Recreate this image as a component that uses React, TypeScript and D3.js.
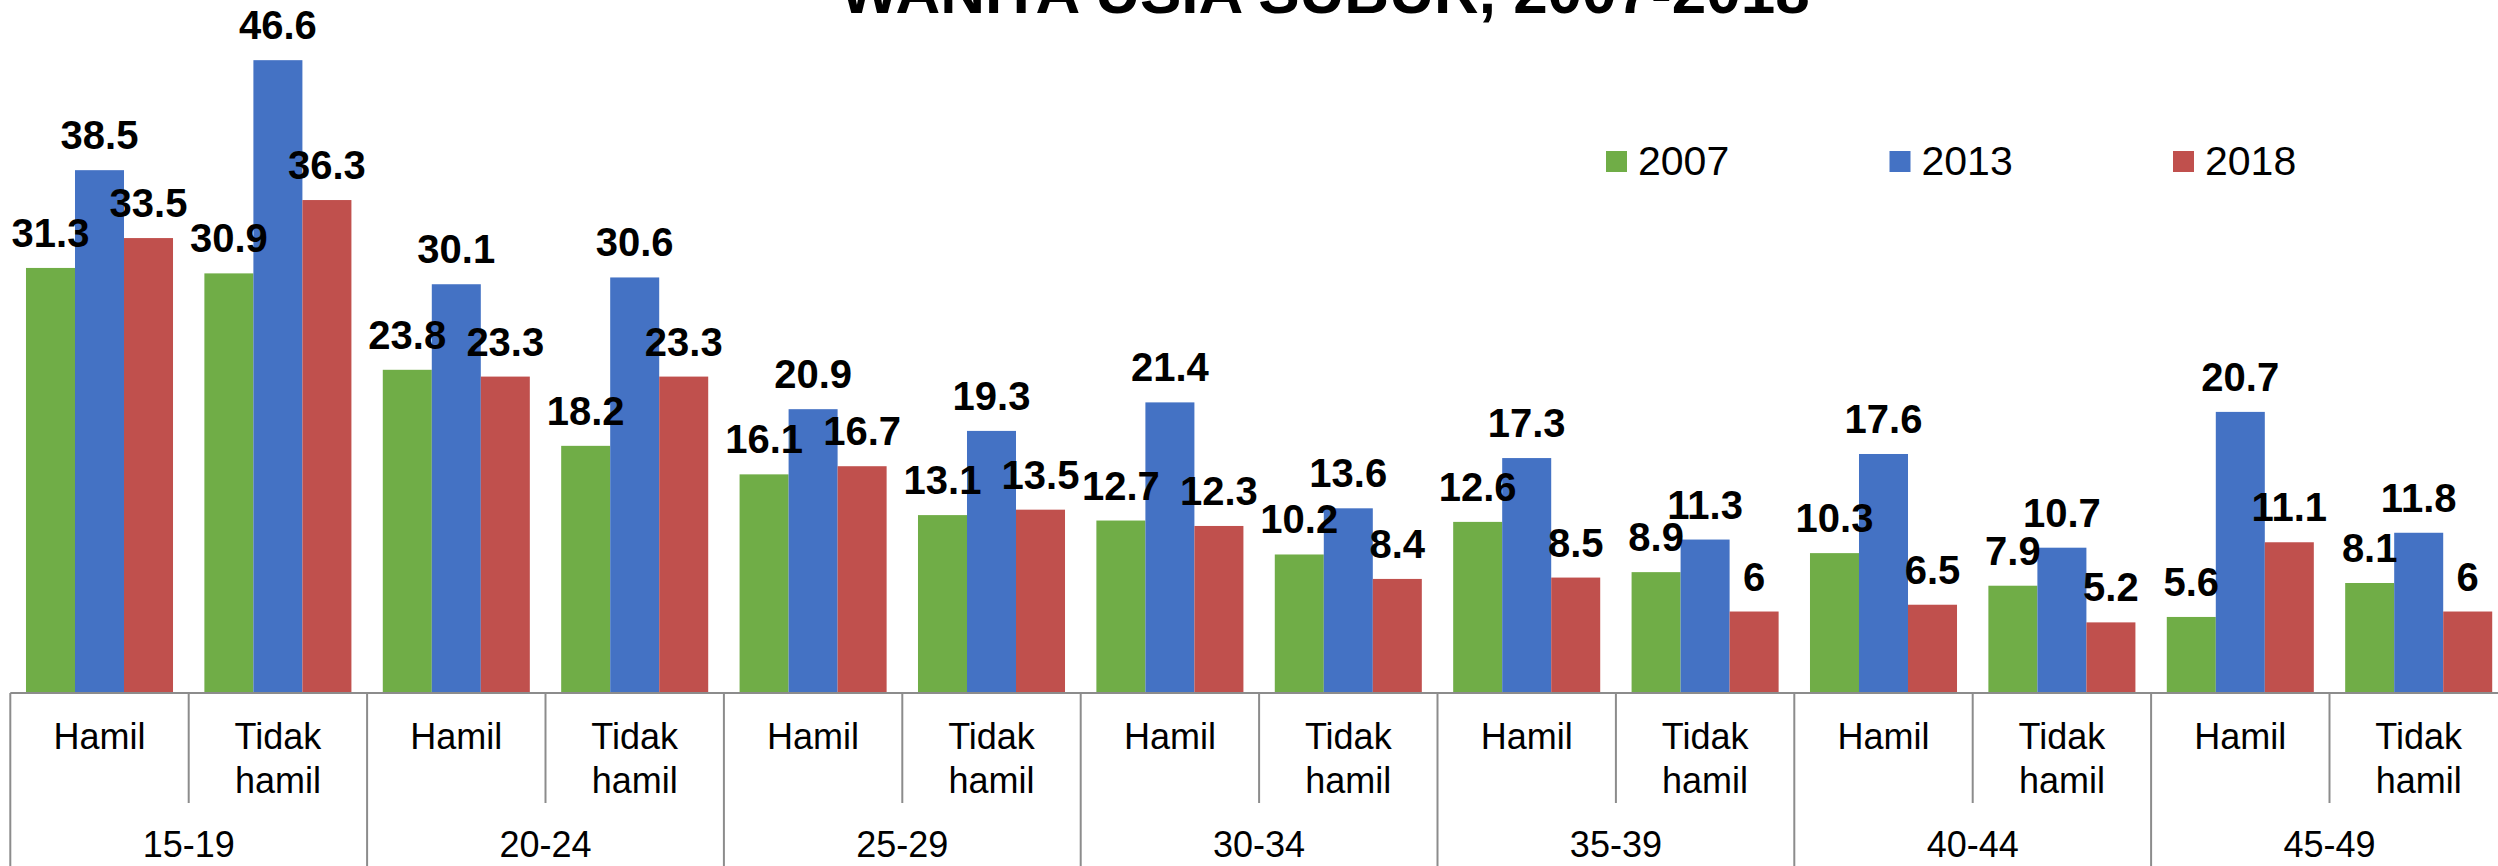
import React from "react";
import * as d3 from "d3";

// data
const groups = ["15-19", "20-24", "25-29", "30-34", "35-39", "40-44", "45-49"];
const status = ["Hamil", "Tidak hamil"];
const years = ["2007", "2013", "2018"];
const v2007 = [31.3, 30.9, 23.8, 18.2, 16.1, 13.1, 12.7, 10.2, 12.6, 8.9, 10.3, 7.9, 5.6, 8.1];
const v2013 = [38.5, 46.6, 30.1, 30.6, 20.9, 19.3, 21.4, 13.6, 17.3, 11.3, 17.6, 10.7, 20.7, 11.8];
const v2018 = [33.5, 36.3, 23.3, 23.3, 16.7, 13.5, 12.3, 8.4, 8.5, 6, 6.5, 5.2, 11.1, 6];
const titleText = "WANITA USIA SUBUR, 2007-2018";

const colors = ["#70AD47", "#4472C4", "#C0504D"];
const FONT = "'Liberation Sans', Arial, sans-serif";

export default function App() {
  const width = 2498;
  const height = 866;
  const axisY = 693;
  const left = 10.3;
  const cellW = 178.4;

  const cells = groups.flatMap((g) => status.map((s) => `${g}|${s}`));
  const series = [v2007, v2013, v2018];

  const xCell = d3
    .scaleBand()
    .domain(cells)
    .range([left, left + cellW * cells.length])
    .padding(0);

  const xSeries = d3
    .scaleBand()
    .domain(years)
    .range([0, xCell.bandwidth()])
    .paddingInner(0)
    .paddingOuter(0.32);

  const xGroup = d3
    .scaleBand()
    .domain(groups)
    .range([left, left + cellW * cells.length])
    .padding(0);

  const y = d3.scaleLinear().domain([0, 50]).range([axisY, axisY - 50 * 13.58]);

  const axisColor = "#8c8c8c";

  return (
    <svg
      width={width}
      height={height}
      style={{ position: "absolute", left: 0, top: 0, background: "#fff" }}
      fontFamily={FONT}
    >
      {/* title (cut off at top) */}
      <text x={1325} y={12.5} textAnchor="middle" fontSize={62} fontWeight="bold" fill="#000">
        {titleText}
      </text>

      {/* bars */}
      {series.map((vals, si) =>
        vals.map((v, i) => (
          <rect
            key={`b${si}-${i}`}
            x={xCell(cells[i])! + xSeries(years[si])!}
            y={y(v)}
            width={xSeries.bandwidth()}
            height={axisY - y(v)}
            fill={colors[si]}
          />
        ))
      )}

      {/* value labels */}
      {series.map((vals, si) =>
        vals.map((v, i) => (
          <text
            key={`l${si}-${i}`}
            x={xCell(cells[i])! + xSeries(years[si])! + xSeries.bandwidth() / 2}
            y={y(v) - 21}
            textAnchor="middle"
            fontSize={40}
            fontWeight="bold"
            fill="#000"
          >
            {String(v)}
          </text>
        ))
      )}

      {/* category axis */}
      <line x1={left} x2={width} y1={axisY} y2={axisY} stroke={axisColor} strokeWidth={2} />
      {cells.map((c, i) =>
        i % 2 === 1 ? (
          <line
            key={`sd${i}`}
            x1={xCell(c)!}
            x2={xCell(c)!}
            y1={axisY}
            y2={803}
            stroke={axisColor}
            strokeWidth={2}
          />
        ) : null
      )}
      {groups.map((g) => (
        <line
          key={`gd${g}`}
          x1={xGroup(g)!}
          x2={xGroup(g)!}
          y1={axisY}
          y2={height}
          stroke={axisColor}
          strokeWidth={2}
        />
      ))}

      {/* sub-category labels */}
      {cells.map((c, i) => {
        const cx = xCell(c)! + xCell.bandwidth() / 2;
        const s = status[i % 2];
        const parts = s === "Hamil" ? ["Hamil"] : ["Tidak", "hamil"];
        return (
          <text key={`sl${i}`} x={cx} y={749} textAnchor="middle" fontSize={36} fill="#000">
            {parts.map((p, pi) => (
              <tspan key={pi} x={cx} dy={pi === 0 ? 0 : 44}>
                {p}
              </tspan>
            ))}
          </text>
        );
      })}

      {/* group labels */}
      {groups.map((g) => (
        <text
          key={`gl${g}`}
          x={xGroup(g)! + xGroup.bandwidth() / 2}
          y={857}
          textAnchor="middle"
          fontSize={36}
          fill="#000"
        >
          {g}
        </text>
      ))}

      {/* legend */}
      {years.map((yr, i) => (
        <g key={`lg${yr}`} transform={`translate(${1606 + i * 283.5},151)`}>
          <rect x={0} y={0} width={21} height={21} fill={colors[i]} />
          <text x={32} y={24} fontSize={41} fill="#000">
            {yr}
          </text>
        </g>
      ))}
    </svg>
  );
}
